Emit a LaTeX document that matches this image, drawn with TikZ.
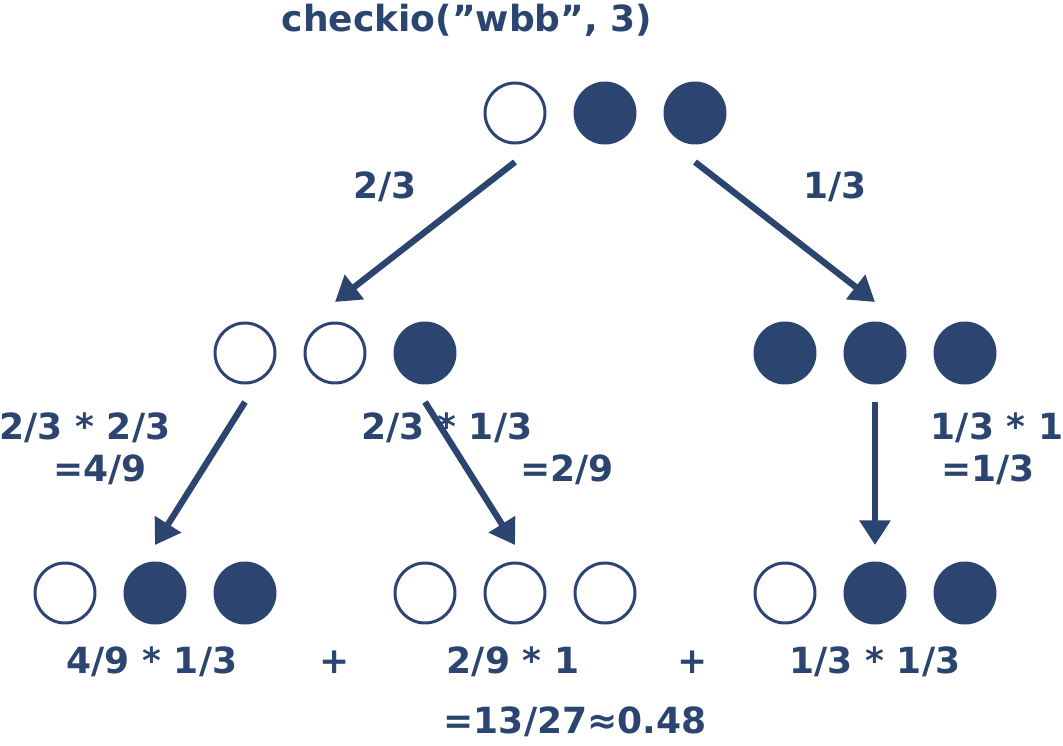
\documentclass[tikz,border=0pt]{standalone}
\usepackage{fontspec}
\setmainfont[Ligatures=ResetAll]{DejaVu Sans}
\usetikzlibrary{arrows.meta}
\definecolor{nv}{HTML}{2B4570}
\begin{document}
\begin{tikzpicture}[x=0.02cm,y=-0.02cm,
  ball/.style={circle,draw=nv,line width=1.7pt,minimum size=1.2cm,inner sep=0pt},
  wb/.style={ball,fill=white},
  bb/.style={ball,fill=nv},
  lbl/.style={text=nv,font=\fontsize{20.5}{24}\selectfont\bfseries,align=center},
  arr/.style={draw=nv,line width=3.6pt,-{Triangle[length=14pt,width=17pt]}}]
\useasboundingbox (0,0) rectangle (1063,745);
\node[lbl] (t) at (467,20) {checkio("wbb", 3)};
\node[wb] (a1) at (515,113) {}; \node[bb] (a2) at (605,113) {}; \node[bb] (a3) at (695,113) {};
\node[wb] (b1) at (245,353) {}; \node[wb] (b2) at (335,353) {}; \node[bb] (b3) at (425,353) {};
\node[bb] (c1) at (785,353) {}; \node[bb] (c2) at (875,353) {}; \node[bb] (c3) at (965,353) {};
\node[wb] (d1) at (65,593) {}; \node[bb] (d2) at (155,593) {}; \node[bb] (d3) at (245,593) {};
\node[wb] (e1) at (425,593) {}; \node[wb] (e2) at (515,593) {}; \node[wb] (e3) at (605,593) {};
\node[wb] (f1) at (785,593) {}; \node[bb] (f2) at (875,593) {}; \node[bb] (f3) at (965,593) {};
\coordinate (s1) at (515,162); \coordinate (t1) at (335,302);
\coordinate (s2) at (695,162); \coordinate (t2) at (875,302);
\coordinate (s3) at (245,402); \coordinate (t3) at (155,545);
\coordinate (s4) at (425,402); \coordinate (t4) at (515,545);
\coordinate (s5) at (875,402); \coordinate (t5) at (875,545);
\draw[arr] (s1) -- (t1); \draw[arr] (s2) -- (t2); \draw[arr] (s3) -- (t3);
\draw[arr] (s4) -- (t4); \draw[arr] (s5) -- (t5);
\node[lbl] (l1) at (385,187) {2/3};
\node[lbl] (l2) at (835,187) {1/3};
\node[lbl] (l3) at (85,428) {2/3 * 2/3}; \node[lbl] (l3b) at (100,470) {=4/9};
\node[lbl] (l4) at (447,428) {2/3 * 1/3}; \node[lbl] (l4b) at (567,470) {=2/9};
\node[lbl] (l5) at (997,428) {1/3 * 1}; \node[lbl] (l5b) at (988,470) {=1/3};
\node[lbl] (m1) at (152,662) {4/9 * 1/3};
\node[lbl] (p1) at (335,662) {+};
\node[lbl] (m2) at (513,662) {2/9 * 1};
\node[lbl] (p2) at (693,662) {+};
\node[lbl] (m3) at (875,662) {1/3 * 1/3};
\node[lbl] (r) at (575,722) {=13/27≈0.48};
\end{tikzpicture}
\end{document}
